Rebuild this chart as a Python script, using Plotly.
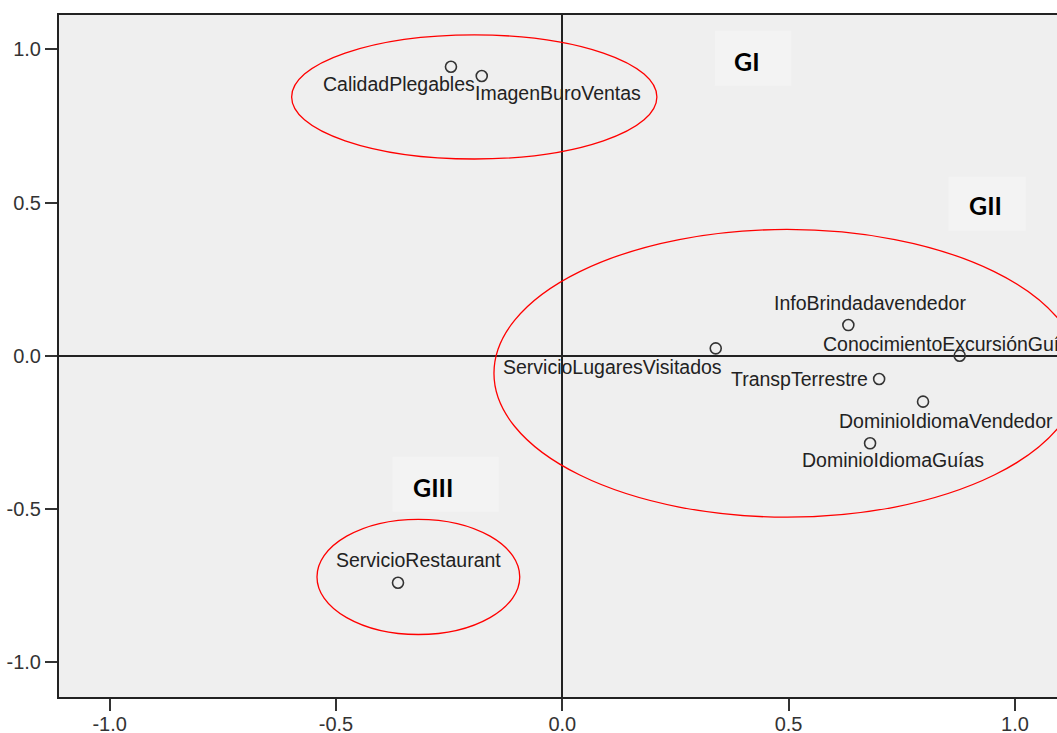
import plotly.graph_objects as go

# ---- data ----
labels = ["CalidadPlegables", "ImagenBuroVentas", "InfoBrindadavendedor",
          "ConocimientoExcursiónGuías", "ServicioLugaresVisitados", "TranspTerrestre",
          "DominioIdiomaVendedor", "DominioIdiomaGuías", "ServicioRestaurant"]
dim1 = [-0.246, -0.178, 0.632, 0.878, 0.339, 0.700, 0.797, 0.680, -0.363]
dim2 = [0.943, 0.913, 0.100, 0.000, 0.024, -0.076, -0.150, -0.286, -0.741]

group_names = ["GI", "GII", "GIII"]
# ellipse extents in data units: x0, x1, y0, y1
ell_x0 = [-0.598, -0.151, -0.542]
ell_x1 = [0.209, 1.144, -0.094]
ell_y0 = [0.642, -0.527, -0.910]
ell_y1 = [1.047, 0.412, -0.534]

x_ticks = [-1.0, -0.5, 0.0, 0.5, 1.0]
y_ticks = [-1.0, -0.5, 0.0, 0.5, 1.0]

# ---- layout helpers (label offsets in px, group label placement) ----
label_anchor = ["center", "center", "center", "left", "center", "center", "center", "center", "center"]
label_dx = [-51.5, 76.5, 21.8, -139, -103.5, -79.6, 23.4, 23, 20.2]
label_dy = [17, 17, -22.5, -11.5, 18.7, 0, 19.3, 16.7, -22.7]
grp_text_x = [0.408, 0.936, -0.286]
grp_text_y = [0.962, 0.492, -0.429]
grp_box = [(0.337, 0.506, 0.881, 1.061), (0.853, 1.024, 0.408, 0.584), (-0.375, -0.140, -0.509, -0.330)]

FONT = "Liberation Sans, Arial, sans-serif"
fig = go.Figure()

fig.add_trace(go.Scatter(
    x=dim1, y=dim2, mode="markers",
    marker=dict(symbol="circle-open", size=11, color="#333333", line=dict(width=1.6, color="#333333")),
    hoverinfo="text", text=labels, showlegend=False, cliponaxis=False))

shapes = []
for (bx0, bx1, by0, by1) in grp_box:
    shapes.append(dict(type="rect", xref="x", yref="y", x0=bx0, x1=bx1, y0=by0, y1=by1,
                       fillcolor="#f3f3f3", line=dict(width=0), layer="below"))
for i in range(len(group_names)):
    shapes.append(dict(type="circle", xref="x", yref="y",
                       x0=ell_x0[i], x1=ell_x1[i], y0=ell_y0[i], y1=ell_y1[i],
                       line=dict(color="#ff0000", width=1.3), layer="above"))

annotations = []
for lab, x, y, anc, dx, dy in zip(labels, dim1, dim2, label_anchor, label_dx, label_dy):
    annotations.append(dict(x=x, y=y, xref="x", yref="y", text=lab, showarrow=False,
                            xanchor=anc, yanchor="middle", xshift=dx, yshift=-dy,
                            font=dict(family=FONT, size=19.5, color="#222222")))
for name, tx, ty in zip(group_names, grp_text_x, grp_text_y):
    annotations.append(dict(x=tx, y=ty, xref="x", yref="y", text="<b>%s</b>" % name, showarrow=False,
                            xanchor="center", yanchor="middle",
                            font=dict(family="Lato, sans-serif", size=25, color="#000000")))

fig.update_layout(
    width=1057, height=733,
    margin=dict(l=59, r=0, t=15, b=36, pad=0, autoexpand=False),
    paper_bgcolor="#ffffff", plot_bgcolor="#efefef",
    shapes=shapes, annotations=annotations,
    xaxis=dict(range=[-1.112, 1.093], tickvals=x_ticks, ticktext=["%.1f" % v for v in x_ticks],
               automargin=False, ticklabelstandoff=-4,
               showgrid=False, zeroline=True, zerolinecolor="#222222", zerolinewidth=2,
               showline=True, linecolor="#222222", linewidth=2, mirror=True,
               ticks="outside", ticklen=12, tickwidth=2, tickcolor="#333333",
               tickfont=dict(family=FONT, size=20, color="#333333")),
    yaxis=dict(range=[-1.114, 1.112], tickvals=y_ticks, ticktext=["%.1f" % v for v in y_ticks],
               automargin=False,
               showgrid=False, zeroline=True, zerolinecolor="#222222", zerolinewidth=2,
               showline=True, linecolor="#222222", linewidth=2, mirror=False,
               ticks="outside", ticklen=12, tickwidth=2, tickcolor="#333333",
               tickfont=dict(family=FONT, size=20, color="#333333")),
)

fig.write_html("out.html", config={"displayModeBar": False},
               post_script="document.body.style.margin='0';document.body.style.overflow='hidden';")
